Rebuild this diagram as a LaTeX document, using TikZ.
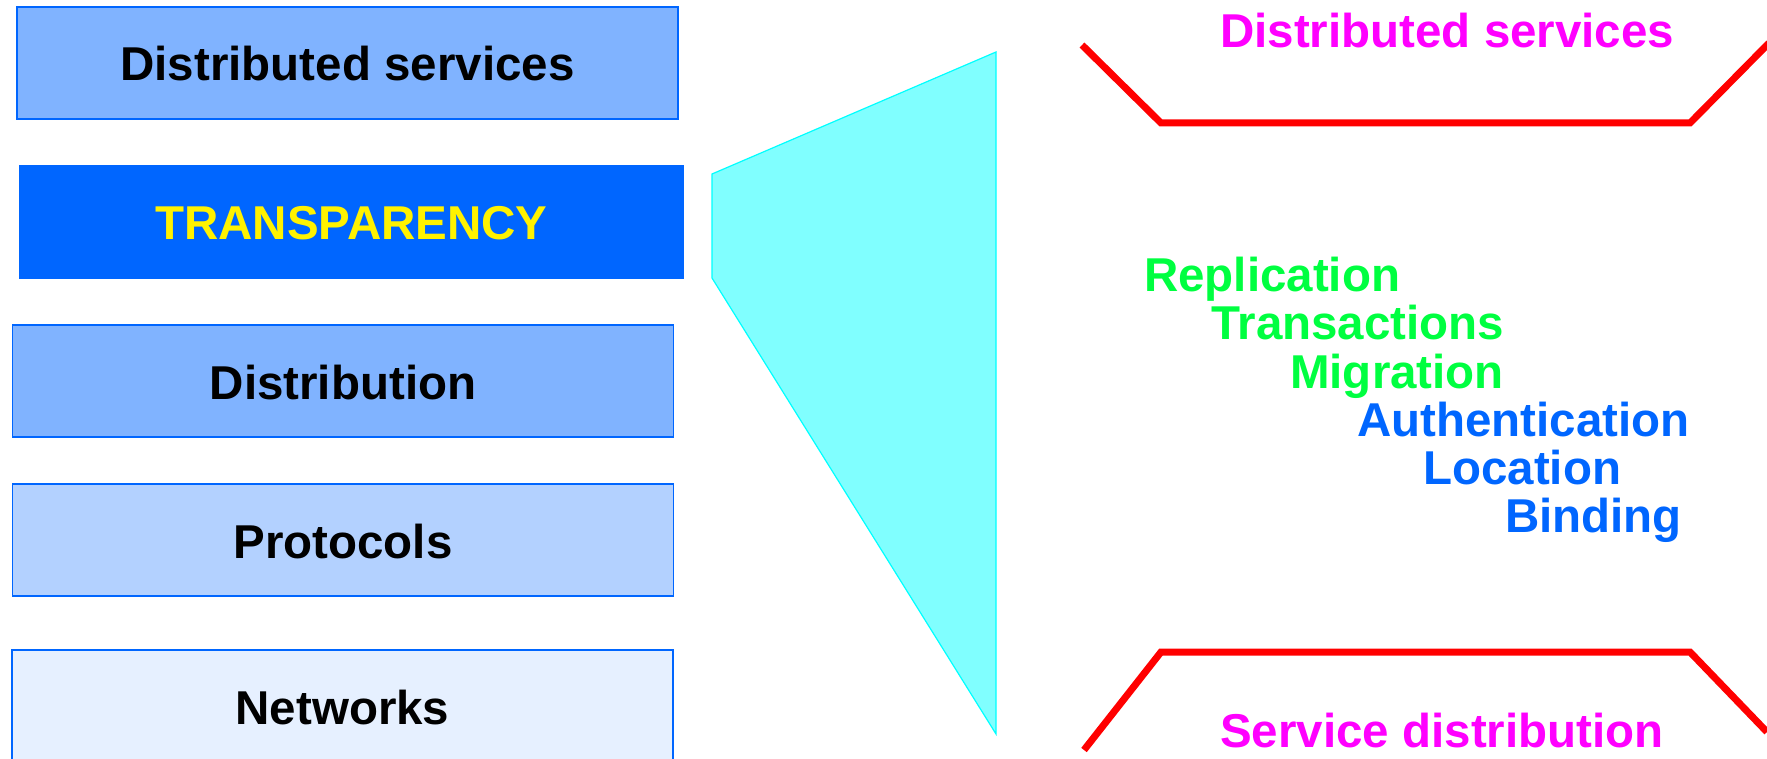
\documentclass[tikz,border=0pt]{standalone}
\usepackage{fontspec}
\setmainfont{Liberation Sans}
\usetikzlibrary{positioning}

\definecolor{layline}{HTML}{0066FF}
\definecolor{laymid}{HTML}{80B3FF}
\definecolor{laylight}{HTML}{B3D1FF}
\definecolor{laypale}{HTML}{E6F0FF}
\definecolor{zoomfill}{HTML}{80FFFF}
\definecolor{zoomline}{HTML}{00FFFF}
\definecolor{itemgreen}{HTML}{00FF40}
\definecolor{boundtext}{HTML}{FF00FF}
\definecolor{boundline}{HTML}{FF0000}

\tikzset{
    layer/.style={draw=layline, line width=1.5pt, inner sep=0pt,
        minimum width=661pt, minimum height=112pt,
        text height=36pt, text depth=0pt,
        font=\fontsize{47.5}{56}\selectfont\bfseries},
    item/.style={anchor=base west, inner sep=0pt,
        font=\fontsize{47.5}{56}\selectfont\bfseries},
    bound/.style={draw=boundline, line width=7pt}
}

\begin{document}
\begin{tikzpicture}[x=1pt, y=-1pt]
    \useasboundingbox (0,0) rectangle (1767,759);
    \clip (0,0) rectangle (1767,759);

    % Layers
    \node[layer, fill=laymid] (svc) at (347.5,63) {Distributed services};
    \node[layer, fill=layline, draw=layline, minimum width=663pt, text=yellow] (transp) at (351.5,222) {TRANSPARENCY};
    \node[layer, fill=laymid] (distr) at (343,381) {Distribution};
    \node[layer, fill=laylight] (proto) at (343,540) {Protocols};
    \node[layer, fill=laypale] (net) at (342.5,706) {Networks};

    % Zoom
    \draw[fill=zoomfill, draw=zoomline, line width=1.2pt]
        (712,174) -- (996,52) -- (996,734) -- (712,278) -- cycle;

    % Bounds
    \draw[bound] (1082,45) -- (1161,123) -- (1690,123) -- (1769,43);
    \draw[bound] (1084,750) -- (1161,652) -- (1690,652) -- (1767,732);
    \node[item, text=boundtext] (topsvc) at (1220,48) {Distributed services};
    \node[item, text=boundtext] (svcdistr) at (1220,747) {Service distribution};

    % Transparencies
    \node[item, text=itemgreen] (repl) at (1144,292) {Replication};
    \node[item, text=itemgreen] (trans) at (1211,340) {Transactions};
    \node[item, text=itemgreen] (migr) at (1290,388) {Migration};
    \node[item, text=layline] (auth) at (1357,436) {Authentication};
    \node[item, text=layline] (loc) at (1423,484) {Location};
    \node[item, text=layline] (bind) at (1505,532) {Binding};
\end{tikzpicture}
\end{document}
